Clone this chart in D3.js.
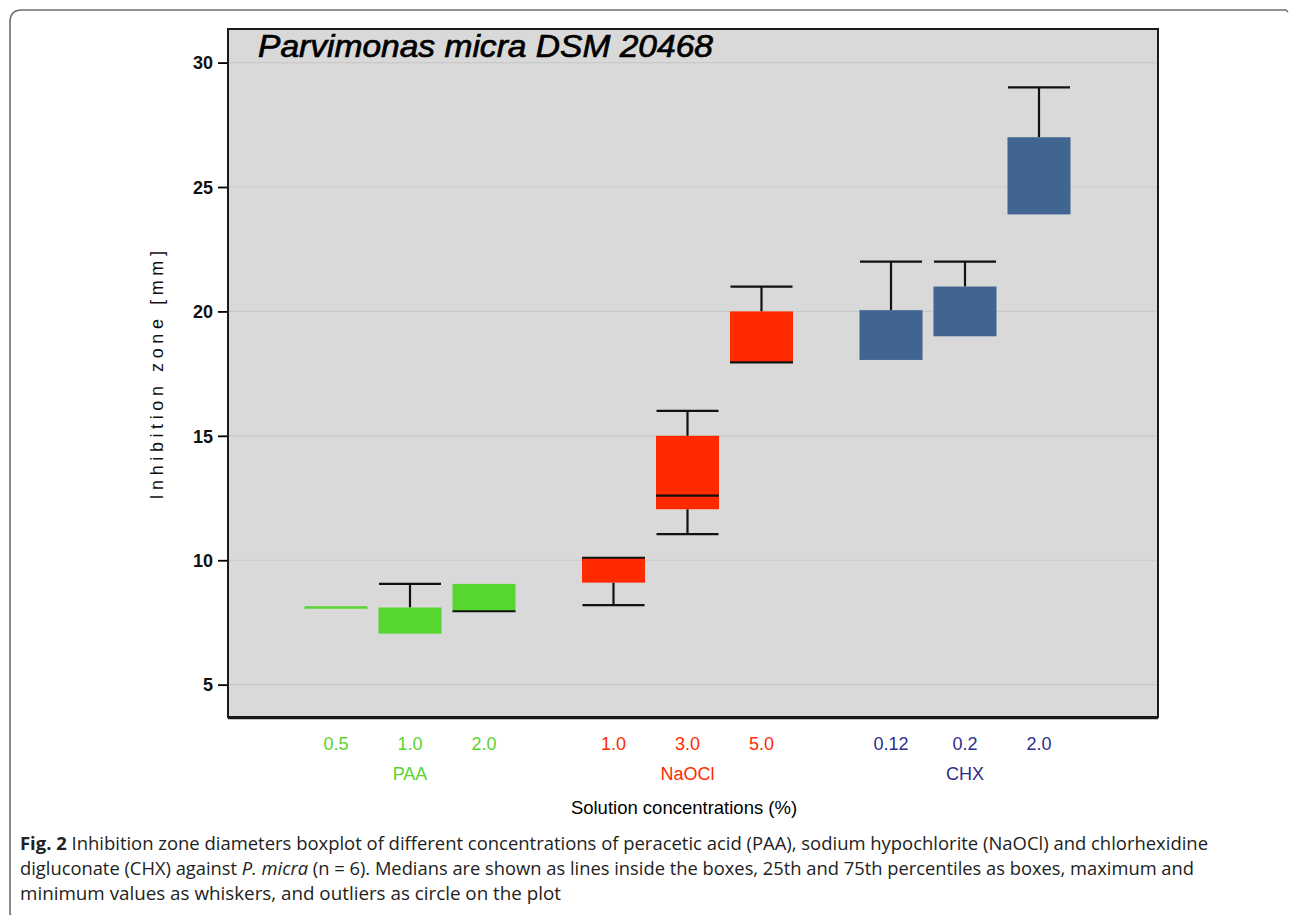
<!DOCTYPE html>
<html><head><meta charset="utf-8">
<script src="https://cdn.jsdelivr.net/npm/d3@7"></script>
<style>
html,body{margin:0;padding:0;background:#fff;}
svg{display:block;}
</style></head>
<body>
<svg id="chart" width="1290" height="915"></svg>
<script>
// ---- data ----
const groups = ["PAA", "NaOCl", "CHX"];
const groupColors = ["#57d62f", "#ff2a00", "#3f6590"];
const labelColors = ["#5ad42f", "#ff2a00", "#2d2e8e"];
const concentrations = [["0.5","1.0","2.0"],["1.0","3.0","5.0"],["0.12","0.2","2.0"]];
// per box, group-major order
const mins    = [8.1, 7.05, 7.95, 8.2, 11.05, 17.95, 18.05, 19.0, 23.9];
const q1s     = [8.1, 7.05, 7.95, 9.1, 12.05, 17.95, 18.05, 19.0, 23.9];
const medians = [null, null, 7.95, 10.1, 12.6, 17.95, null, null, null];
const q3s     = [8.1, 8.1, 9.05, 10.1, 15.0, 20.0, 20.05, 21.0, 27.0];
const maxs    = [8.1, 9.05, 9.05, 10.1, 16.0, 21.0, 22.0, 22.0, 29.0];
const yTicks  = [5, 10, 15, 20, 25, 30];

const svg = d3.select("#chart");

// outer figure border
svg.append("path")
  .attr("d", "M10,913 Q10,916 13,916 M10,913 L10,22 Q10,10 22,10 L1286,10 L1288,12")
  .attr("fill","none").attr("stroke","#6e6e6e").attr("stroke-width",1.6);

const L = 228, R = 1158, T = 29, B = 717;
const y = d3.scaleLinear().domain([3.7, 31.35]).range([B, T]);
const x = d3.scaleLinear().domain([0, 9.5]).range([336, 1039]);
const boxW = 63;

// plot background
svg.append("rect").attr("x",L).attr("y",T).attr("width",R-L).attr("height",B-T).attr("fill","#d9d9d9");

// grid
svg.append("g").selectAll("line").data(yTicks).join("line")
  .attr("x1",L).attr("x2",R).attr("y1",d=>y(d)).attr("y2",d=>y(d))
  .attr("stroke","#c9c9c9").attr("stroke-width",1.2);

// y axis
const yAxis = d3.axisLeft(y).tickValues(yTicks).tickSize(10).tickPadding(5);
const ga = svg.append("g").attr("transform",`translate(${L},0)`).call(yAxis);
ga.select(".domain").remove();
ga.selectAll(".tick line").attr("stroke","#000").attr("stroke-width",1.8);
ga.selectAll(".tick text").attr("font-family","Liberation Sans, Arial, sans-serif")
  .attr("font-size",18).attr("fill","#111").attr("font-weight","bold").attr("dy","0.35em");

// boxes
const boxes = [];
groups.forEach((g,gi)=>concentrations[gi].forEach((c,ci)=>{
  const i = boxes.length;
  boxes.push({g:gi, c, slot: gi*3.75 + ci, min:mins[i], q1:q1s[i], med:medians[i], q3:q3s[i], max:maxs[i]});
}));

const bg = svg.append("g");
boxes.forEach(b=>{
  const cx = x(b.slot);
  const col = groupColors[b.g];
  if (b.max > b.q3) {
    bg.append("line").attr("x1",cx).attr("x2",cx).attr("y1",y(b.q3)).attr("y2",y(b.max)).attr("stroke","#111").attr("stroke-width",2.2);
    bg.append("line").attr("x1",cx-31).attr("x2",cx+31).attr("y1",y(b.max)).attr("y2",y(b.max)).attr("stroke","#111").attr("stroke-width",2.2);
  }
  if (b.min < b.q1) {
    bg.append("line").attr("x1",cx).attr("x2",cx).attr("y1",y(b.q1)).attr("y2",y(b.min)).attr("stroke","#111").attr("stroke-width",2.2);
    bg.append("line").attr("x1",cx-31).attr("x2",cx+31).attr("y1",y(b.min)).attr("y2",y(b.min)).attr("stroke","#111").attr("stroke-width",2.2);
  }
  if (b.q3 - b.q1 > 0.01) {
    bg.append("rect").attr("x",cx-boxW/2).attr("y",y(b.q3)).attr("width",boxW).attr("height",y(b.q1)-y(b.q3))
      .attr("fill",col);
  } else {
    bg.append("line").attr("x1",cx-boxW/2).attr("x2",cx+boxW/2).attr("y1",y(b.q1)).attr("y2",y(b.q1))
      .attr("stroke",col).attr("stroke-width",2.5);
  }
  if (b.max > b.q3 && b.max - b.q3 < 0.1) {
    bg.append("line").attr("x1",cx-boxW/2).attr("x2",cx+boxW/2).attr("y1",y(b.max)).attr("y2",y(b.max)).attr("stroke","#111").attr("stroke-width",2);
  }
  if (b.med !== null) {
    bg.append("line").attr("x1",cx-boxW/2).attr("x2",cx+boxW/2).attr("y1",y(b.med)).attr("y2",y(b.med))
      .attr("stroke","#111").attr("stroke-width",2.2);
  }
});

// frame
svg.append("rect").attr("x",L).attr("y",T).attr("width",R-L).attr("height",B-T)
  .attr("fill","none").attr("stroke","#1a1a1a").attr("stroke-width",2);
svg.append("line").attr("x1",L).attr("x2",R).attr("y1",B+1).attr("y2",B+1).attr("stroke","#1a1a1a").attr("stroke-width",2.5);

// title
svg.append("text").attr("x",258).attr("y",57)
  .attr("font-family","Liberation Sans, Arial, sans-serif").attr("font-style","italic")
  .attr("font-size",31).attr("fill","#000").attr("stroke","#000").attr("stroke-width",0.7)
  .attr("textLength",455).attr("lengthAdjust","spacingAndGlyphs")
  .text("Parvimonas micra DSM 20468");

// x labels
const xl = svg.append("g").attr("font-family","Liberation Sans, Arial, sans-serif").attr("text-anchor","middle");
boxes.forEach(b=>{
  xl.append("text").attr("x",x(b.slot)).attr("y",750).attr("font-size",18)
    .attr("fill",labelColors[b.g]).text(b.c);
});
groups.forEach((g,gi)=>{
  xl.append("text").attr("x",x(gi*3.75+1)).attr("y",780).attr("font-size",18)
    .attr("fill",labelColors[gi]).text(g);
});
xl.append("text").attr("x",684).attr("y",814).attr("font-size",18.5).attr("fill","#000")
  .text("Solution concentrations (%)");

// y label
svg.append("text").attr("transform","translate(163,373) rotate(-90)").attr("text-anchor","middle")
  .attr("font-family","Liberation Sans, Arial, sans-serif").attr("font-size",18).attr("letter-spacing",4.6)
  .attr("fill","#111").text("Inhibition zone [mm]");

// caption
const cap = svg.append("g").attr("font-family","Open Sans, Noto Sans, sans-serif").attr("font-size",17.5).attr("fill","#222");
const l1 = cap.append("text").attr("x",20).attr("y",850).attr("textLength",1188).attr("lengthAdjust","spacingAndGlyphs");
l1.append("tspan").attr("font-weight","bold").text("Fig. 2");
l1.append("tspan").text("  Inhibition zone diameters boxplot of different concentrations of peracetic acid (PAA), sodium hypochlorite (NaOCl) and chlorhexidine");
const l2 = cap.append("text").attr("x",20).attr("y",875).attr("textLength",1174).attr("lengthAdjust","spacingAndGlyphs");
l2.append("tspan").text("digluconate (CHX) against ");
l2.append("tspan").attr("font-style","italic").text("P. micra");
l2.append("tspan").text(" (n = 6). Medians are shown as lines inside the boxes, 25th and 75th percentiles as boxes, maximum and");
cap.append("text").attr("x",20).attr("y",900).attr("textLength",541).attr("lengthAdjust","spacingAndGlyphs")
  .text("minimum values as whiskers, and outliers as circle on the plot");
</script>
</body></html>
